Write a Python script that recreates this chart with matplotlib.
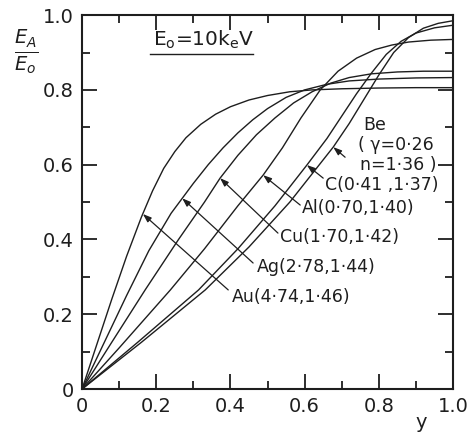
import matplotlib
matplotlib.use("Agg")
import matplotlib.pyplot as plt

plt.rcParams['font.family'] = ['DejaVu Sans']
plt.rcParams['mathtext.fontset'] = 'dejavusans'

ink = '#1e1e1e'

# curves: depth fraction y vs E_A/E_0
au_y = [0, 0.04, 0.08, 0.12, 0.16, 0.19, 0.22, 0.25, 0.28, 0.32, 0.36, 0.40, 0.45, 0.50, 0.56, 0.62, 0.70, 0.80, 0.90, 1.0]
au_e = [0, 0.12, 0.24, 0.355, 0.46, 0.53, 0.59, 0.635, 0.672, 0.708, 0.735, 0.755, 0.773, 0.785, 0.795, 0.800, 0.803, 0.805, 0.806, 0.806]

ag_y = [0, 0.06, 0.12, 0.18, 0.24, 0.27, 0.30, 0.34, 0.38, 0.42, 0.46, 0.50, 0.55, 0.60, 0.66, 0.72, 0.80, 0.90, 1.0]
ag_e = [0, 0.125, 0.25, 0.37, 0.47, 0.51, 0.55, 0.60, 0.645, 0.685, 0.72, 0.75, 0.78, 0.80, 0.815, 0.824, 0.829, 0.832, 0.833]

cu_y = [0, 0.08, 0.17, 0.26, 0.33, 0.372, 0.42, 0.47, 0.52, 0.57, 0.62, 0.67, 0.72, 0.78, 0.85, 0.92, 1.0]
cu_e = [0, 0.125, 0.265, 0.40, 0.50, 0.564, 0.625, 0.68, 0.725, 0.765, 0.795, 0.818, 0.833, 0.843, 0.848, 0.85, 0.85]

al_y = [0, 0.1, 0.238, 0.33, 0.42, 0.488, 0.54, 0.59, 0.642, 0.69, 0.74, 0.79, 0.835, 0.88, 0.94, 1.0]
al_e = [0, 0.11, 0.265, 0.375, 0.49, 0.572, 0.645, 0.725, 0.80, 0.85, 0.885, 0.908, 0.92, 0.928, 0.933, 0.935]

c_y = [0, 0.15, 0.314, 0.42, 0.52, 0.606, 0.66, 0.70, 0.74, 0.78, 0.82, 0.86, 0.9, 0.95, 1.0]
c_e = [0, 0.125, 0.265, 0.375, 0.49, 0.599, 0.67, 0.73, 0.79, 0.845, 0.895, 0.93, 0.952, 0.966, 0.973]

be_y = [0, 0.16, 0.332, 0.45, 0.56, 0.677, 0.72, 0.76, 0.80, 0.84, 0.88, 0.92, 0.96, 1.0]
be_e = [0, 0.125, 0.265, 0.38, 0.50, 0.647, 0.71, 0.775, 0.84, 0.90, 0.94, 0.965, 0.978, 0.985]

curves = [(au_y, au_e), (ag_y, ag_e), (cu_y, cu_e), (al_y, al_e), (c_y, c_e), (be_y, be_e)]

# leader lines: point on curve -> end near label, then label text
labels = ['Au(4·74,1·46)', 'Ag(2·78,1·44)', 'Cu(1·70,1·42)', 'Al(0·70,1·40)', 'C(0·41 ,1·37)', '']
tips = [(0.164, 0.468), (0.270, 0.510), (0.372, 0.564), (0.488, 0.572), (0.606, 0.599), (0.677, 0.647)]
ends = [(0.394, 0.265), (0.461, 0.337), (0.528, 0.417), (0.588, 0.492), (0.650, 0.564), (0.709, 0.620)]
text_pos = [(0.404, 0.246), (0.472, 0.326), (0.534, 0.406), (0.593, 0.484), (0.655, 0.545), None]

fig = plt.figure(figsize=(4.69, 4.32), dpi=100)
ax = fig.add_axes([0.175, 0.0995, 0.791, 0.8655])

for yy, ee in curves:
    ax.plot(yy, ee, color=ink, lw=1.0)

for lab, tip, end, tp in zip(labels, tips, ends, text_pos):
    ax.annotate('', xy=tip, xytext=end,
                arrowprops=dict(arrowstyle='-|>,head_length=0.5,head_width=0.18',
                                color=ink, lw=0.9, shrinkA=0, shrinkB=0))
    if tp is not None:
        ax.text(tp[0], tp[1], lab, fontsize=12.5, ha='left', va='center', color=ink)

# Be label block
ax.text(0.757, 0.707, 'Be', fontsize=12.5, ha='left', va='center', color=ink)
ax.text(0.744, 0.653, '( γ=0·26', fontsize=12.5, ha='left', va='center', color=ink)
ax.text(0.750, 0.599, 'n=1·36 )', fontsize=12.5, ha='left', va='center', color=ink)

# energy label with underline
ax.text(0.19, 0.935, r'E$_\mathregular{o}$=10k$_\mathregular{e}$V', fontsize=14.5, ha='left',
        va='center', color=ink)
ax.plot([0.183, 0.461], [0.896, 0.896], color=ink, lw=1.0)

ax.set_xlim(0, 1)
ax.set_ylim(0, 1)
ax.set_xticks([0, 0.2, 0.4, 0.6, 0.8, 1.0])
ax.set_xticklabels(['0', '0.2', '0.4', '0.6', '0.8', '1.0'])
ax.set_yticks([0, 0.2, 0.4, 0.6, 0.8, 1.0])
ax.set_yticklabels(['0', '0.2', '0.4', '0.6', '0.8', '1.0'])
ax.set_xticks([0.1, 0.3, 0.5, 0.7, 0.9], minor=True)
ax.set_yticks([0.1, 0.3, 0.5, 0.7, 0.9], minor=True)
ax.tick_params(which='both', direction='in', top=True, right=True, colors=ink,
               labelsize=14, width=1.3)
ax.tick_params(which='major', length=11, pad=6)
ax.tick_params(which='minor', length=6)
for s in ax.spines.values():
    s.set_linewidth(1.5)
    s.set_color(ink)

ax.text(0.914, -0.09, 'y', fontsize=14, ha='center', va='center', color=ink,
        transform=ax.transAxes)
fig.text(0.055, 0.88, r'$\frac{E_A}{E_o}$', fontsize=20, ha='center', va='center', color=ink)

fig.savefig('out.png', dpi=100)
